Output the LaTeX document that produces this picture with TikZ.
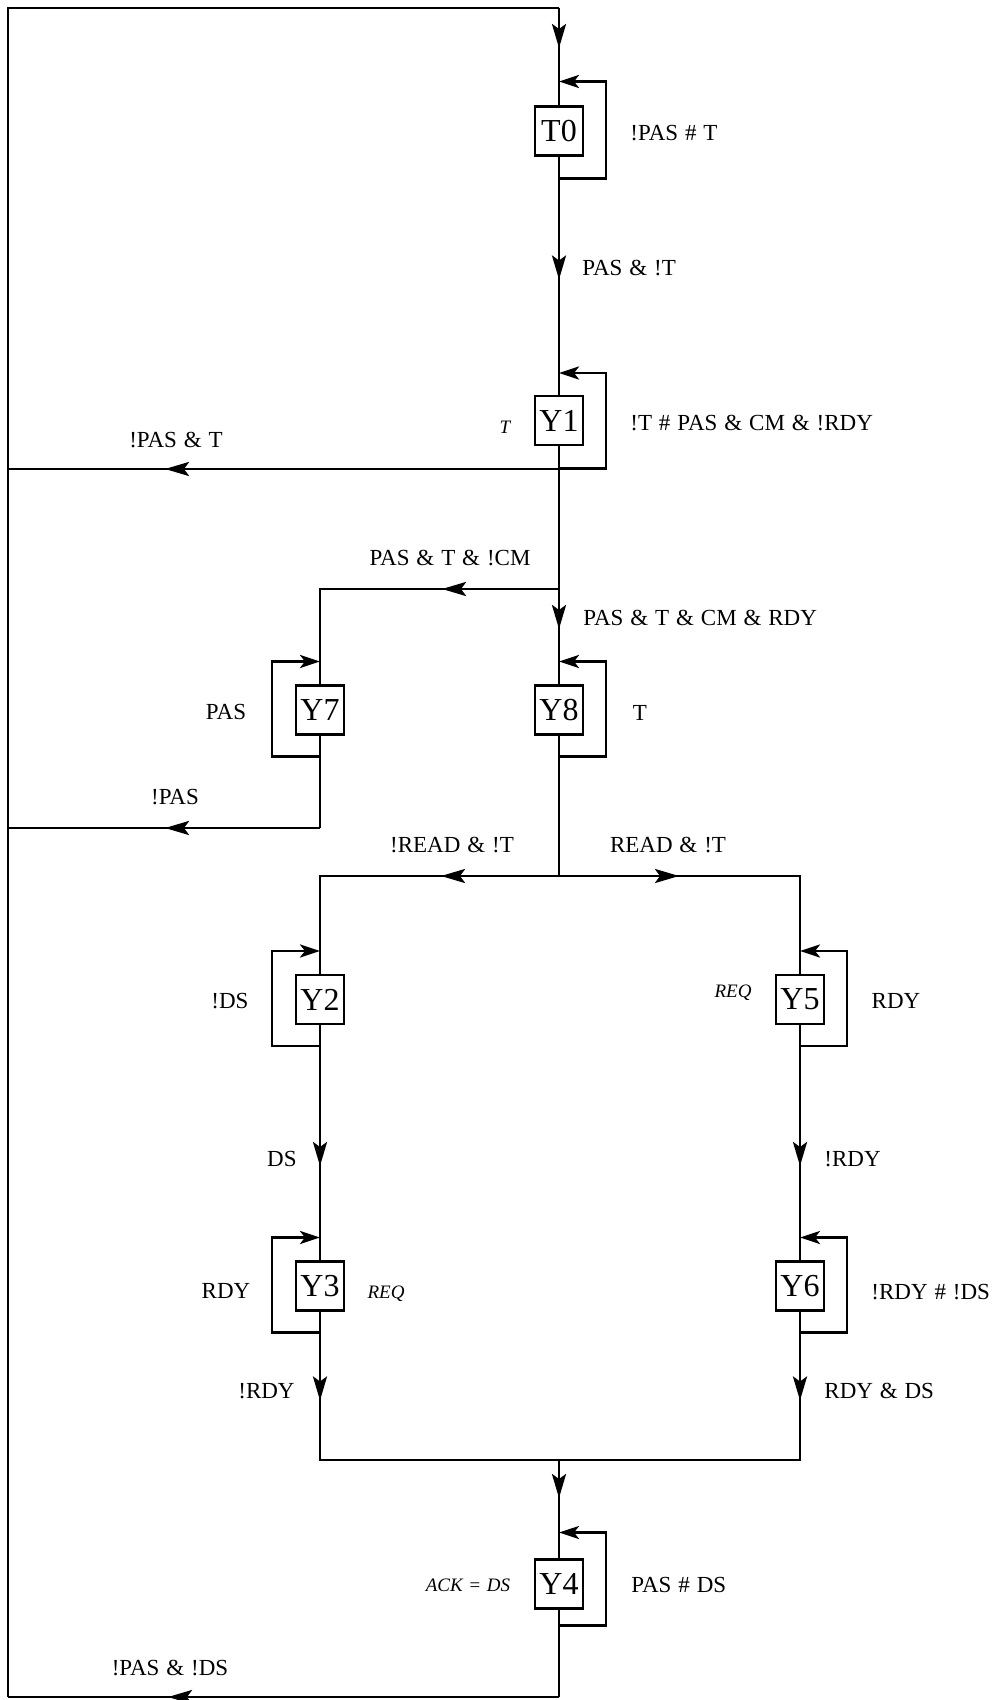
\documentclass[tikz,border=0pt]{standalone}
\usepackage{fontspec}
\setmainfont{Liberation Serif}[WordSpace=1.2]
\usetikzlibrary{arrows.meta,calc,decorations.markings}
\tikzset{
  wire/.style={line width=1.45pt},
  >={Stealth[length=12pt,width=7pt,inset=2.5pt]},
  arrowat/.style={postaction={decorate},decoration={markings,mark=at position #1 with {\arrow{>}}}},
  stbox/.style={draw,line width=1.45pt,minimum width=24pt,minimum height=24.5pt,inner sep=0pt,outer sep=0pt,font=\fontsize{16}{18}\selectfont},
  lab/.style={font=\fontsize{11.5}{13}\selectfont,inner sep=0pt},
  ilab/.style={font=\fontsize{9.5}{11}\selectfont\itshape,inner sep=0pt},
  selfloop/.style={line width=1.45pt,-{Stealth[length=10pt,width=6.5pt,inset=2.5pt]}},
}
\begin{document}
\begin{tikzpicture}[x=0.5pt,y=-0.5pt]
\useasboundingbox (0,0) rectangle (999,1700);

% states
\node[stbox] (T0) at (559,131) {T0};
\node[stbox] (Y1) at (559,420.5) {Y1};
\node[stbox] (Y7) at (320,710) {Y7};
\node[stbox] (Y8) at (559,710) {Y8};
\node[stbox] (Y2) at (320,999.5) {Y2};
\node[stbox] (Y5) at (800,999.5) {Y5};
\node[stbox] (Y3) at (320,1286) {Y3};
\node[stbox] (Y6) at (800,1286) {Y6};
\node[stbox] (Y4) at (559,1584) {Y4};

% junctions
\coordinate (tl) at (8,8);
\coordinate (tr) at (559,8);
\coordinate (r1) at (559,469);
\coordinate (l1) at (8,469);
\coordinate (m8) at (559,589);
\coordinate (c7) at (320,589);
\coordinate (r7) at (320,828);
\coordinate (l7) at (8,828);
\coordinate (b8) at (559,876);
\coordinate (bl) at (320,876);
\coordinate (br) at (800,876);
\coordinate (ml) at (320,1460);
\coordinate (mr) at (800,1460);
\coordinate (mm) at (559,1460);
\coordinate (r4) at (559,1697);
\coordinate (l4) at (8,1697);

% main connectors
\draw[wire] (l4) -- (tl) -- (tr);
\draw[wire,arrowat=20pt] (tr) -- (T0.north);
\draw[wire,arrowat=62pt] (T0.south) -- (Y1.north);
\draw[wire] (Y1.south) -- (m8);
\draw[wire,arrowat=197pt] (r1) -- (l1);
\draw[wire,arrowat=20pt] (m8) -- (Y8.north);
\draw[wire,arrowat=58.5pt] (m8) -- (c7) -- (Y7.north);
\draw[wire] (Y7.south) -- (r7);
\draw[wire,arrowat=77.5pt] (r7) -- (l7);
\draw[wire] (Y8.south) -- (b8);
\draw[wire,arrowat=59pt] (b8) -- (bl) -- (Y2.north);
\draw[wire,arrowat=60pt] (b8) -- (br) -- (Y5.north);
\draw[wire,arrowat=71pt] (Y2.south) -- (Y3.north);
\draw[wire,arrowat=71pt] (Y5.south) -- (Y6.north);
\draw[wire,arrowat=45pt] (Y3.south) -- (ml) -- (mm);
\draw[wire,arrowat=45pt] (Y6.south) -- (mr) -- (mm);
\draw[wire,arrowat=19pt] (mm) -- (Y4.north);
\draw[wire] (Y4.south) -- (r4);
\draw[wire,arrowat=195.5pt] (r4) -- (l4);

% self loops
\draw[selfloop] ($(T0.south)+(0,23)$) -- ++(47,0) |- ($(T0.north)+(0,-25)$);
\draw[selfloop] ($(Y1.south)+(0,23.5)$) -- ++(47,0) |- ($(Y1.north)+(0,-23)$);
\draw[selfloop] ($(Y7.south)+(0,22)$) -- ++(-48,0) |- ($(Y7.north)+(0,-24)$);
\draw[selfloop] ($(Y8.south)+(0,22)$) -- ++(47,0) |- ($(Y8.north)+(0,-24)$);
\draw[selfloop] ($(Y2.south)+(0,22)$) -- ++(-48,0) |- ($(Y2.north)+(0,-24)$);
\draw[selfloop] ($(Y5.south)+(0,22)$) -- ++(47,0) |- ($(Y5.north)+(0,-24)$);
\draw[selfloop] ($(Y3.south)+(0,22)$) -- ++(-48,0) |- ($(Y3.north)+(0,-24)$);
\draw[selfloop] ($(Y6.south)+(0,22)$) -- ++(47,0) |- ($(Y6.north)+(0,-24)$);
\draw[selfloop] ($(Y4.south)+(0,17)$) -- ++(47,0) |- ($(Y4.north)+(0,-27)$);

% labels
\node[lab,anchor=west] (lT0) at (630,133) {!PAS \# T};
\node[lab,anchor=west] (lT0Y1) at (582,268) {PAS \& !T};
\node[lab,anchor=west] (lY1) at (630,423) {!T \# PAS \& CM \& !RDY};
\node[ilab] (oY1) at (505,427) {T};
\node[lab] (lY1T0) at (176,440) {!PAS \& T};
\node[lab] (lY1Y7) at (450,558) {PAS \& T \& !CM};
\node[lab,anchor=west] (lY1Y8) at (583,618) {PAS \& T \& CM \& RDY};
\node[lab] (lY7) at (226,712) {PAS};
\node[lab] (lY8) at (640,713) {T};
\node[lab] (lY7T0) at (175,797) {!PAS};
\node[lab] (lY8Y2) at (452,845) {!READ \& !T};
\node[lab] (lY8Y5) at (668,845) {READ \& !T};
\node[lab] (lY2) at (230,1001) {!DS};
\node[ilab] (oY5) at (733,993) {REQ};
\node[lab] (lY5) at (896,1001) {RDY};
\node[lab,anchor=east] (lY2Y3) at (297,1159) {DS};
\node[lab,anchor=west] (lY5Y6) at (824,1159) {!RDY};
\node[lab] (lY3) at (226,1291) {RDY};
\node[ilab] (oY3) at (386,1294) {REQ};
\node[lab,anchor=west] (lY6) at (871,1292) {!RDY \# !DS};
\node[lab,anchor=east] (lY3Y4) at (295,1391) {!RDY};
\node[lab,anchor=west] (lY6Y4) at (824,1391) {RDY \& DS};
\node[ilab] (oY4) at (468,1585) {ACK = DS};
\node[lab,anchor=west] (lY4) at (631,1585) {PAS \# DS};
\node[lab] (lY4T0) at (170,1668) {!PAS \& !DS};
\end{tikzpicture}
\end{document}
